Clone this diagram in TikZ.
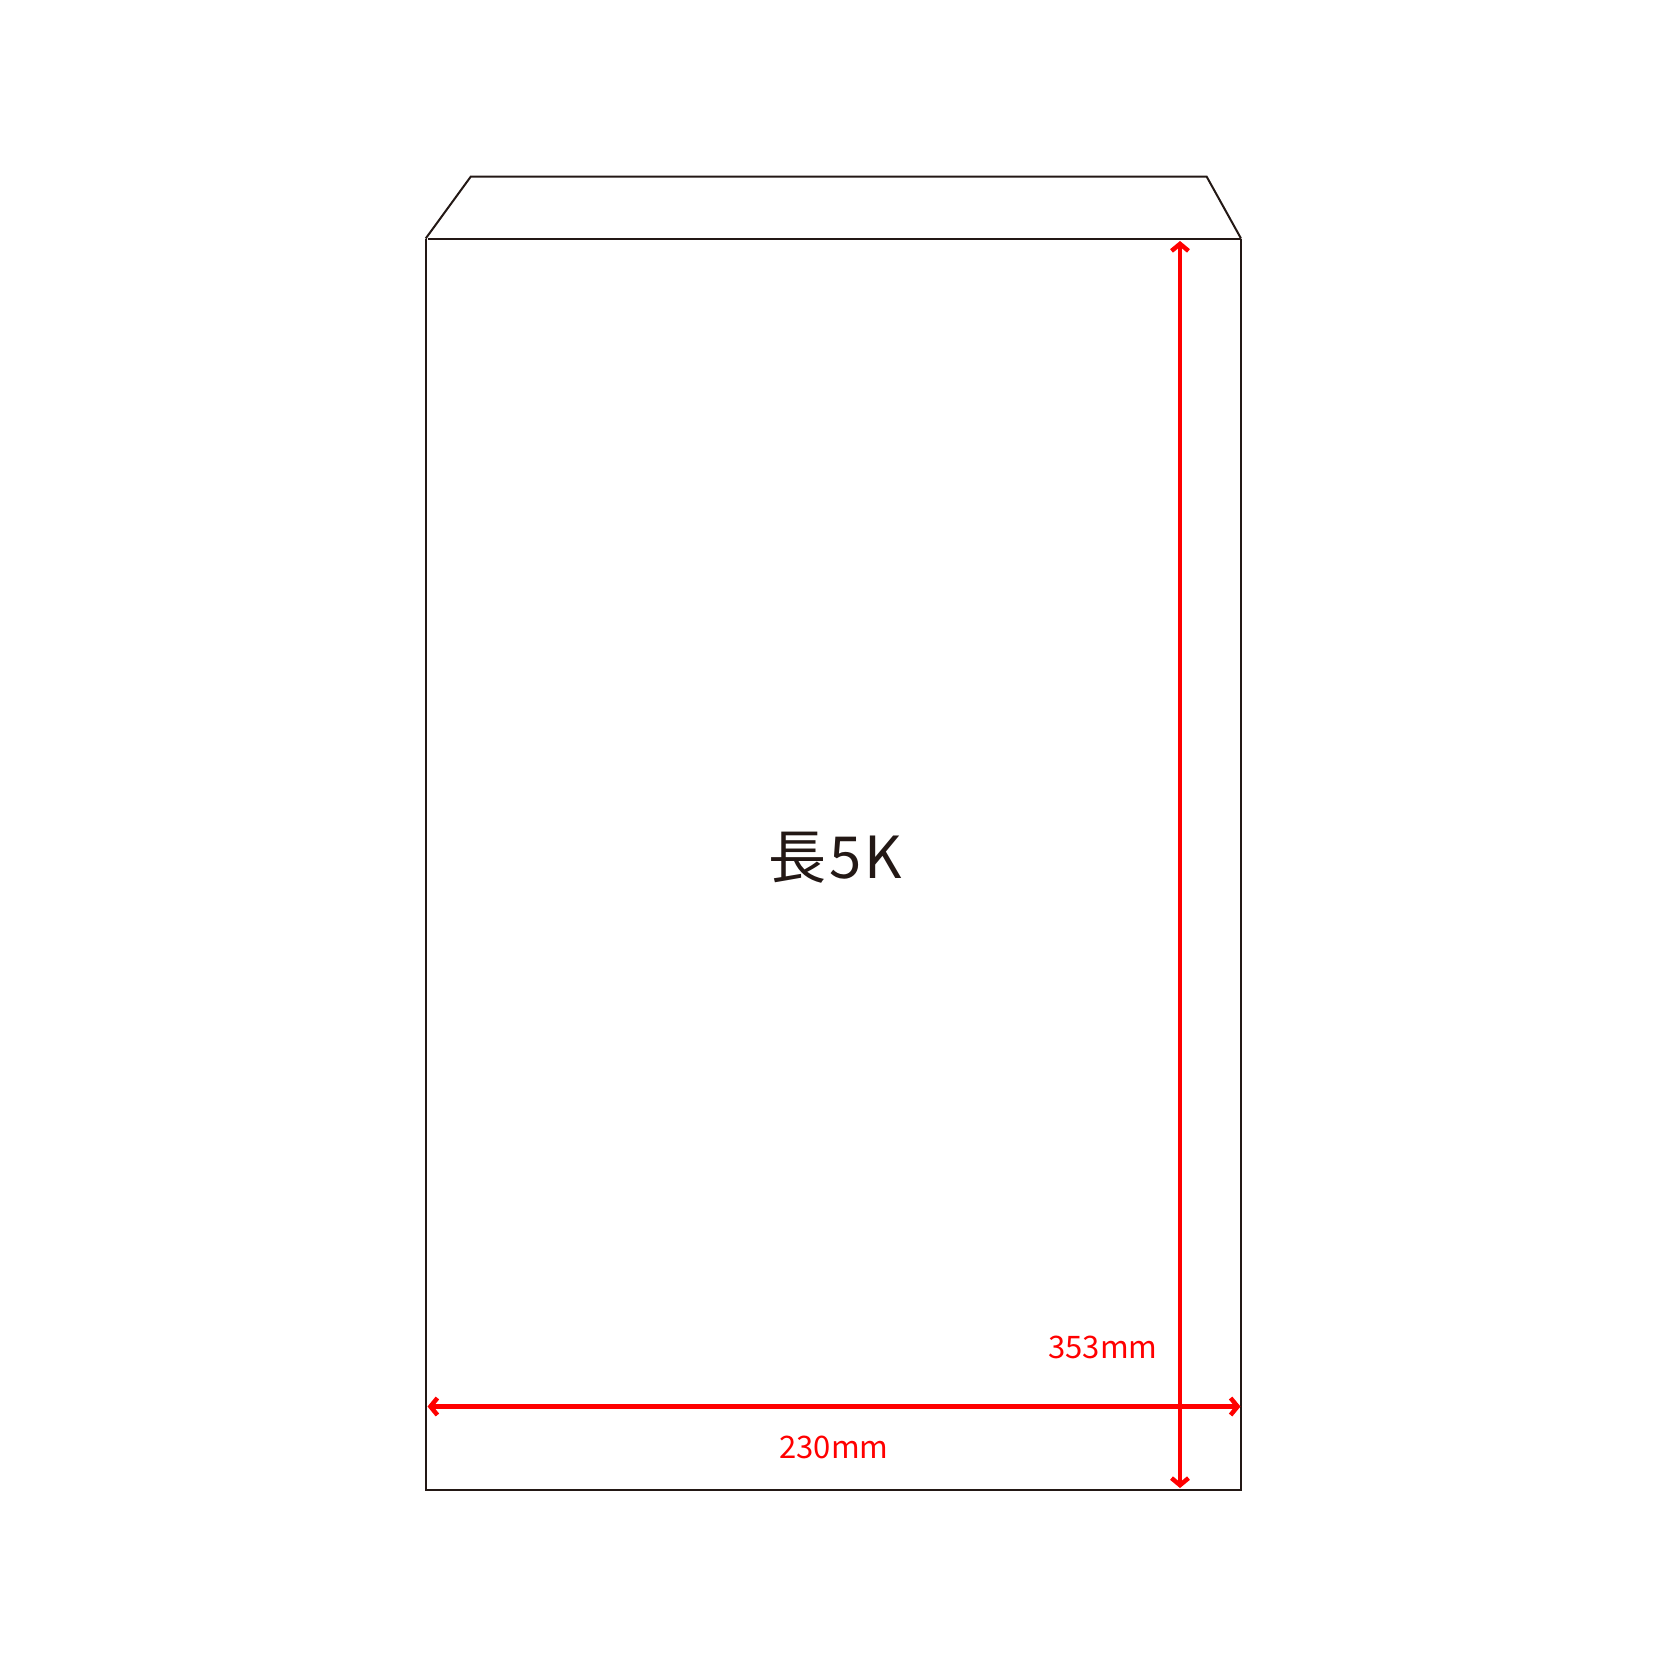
\documentclass[tikz,border=0pt]{standalone}
\usepackage{fontspec}
\newfontfamily\jpfont{Noto Sans CJK JP}
\usetikzlibrary{arrows.meta}
\definecolor{inkline}{HTML}{231815}
\definecolor{dimred}{HTML}{FF0000}
\tikzset{
  outline/.style={draw=inkline, line width=2pt, line join=miter},
  dimline/.style={draw=dimred, line width=4.8pt,
    {Straight Barb[length=7pt,width=17pt,line width=4.5pt]}-{Straight Barb[length=7pt,width=17pt,line width=4.5pt]}},
  dimlabel/.style={text=dimred, font=\jpfont\fontsize{31}{31}\selectfont, inner sep=0pt},
  titlelabel/.style={text=inkline, font=\jpfont\fontsize{58}{58}\selectfont\addfontfeature{LetterSpace=5}, inner sep=0pt}
}
\begin{document}
\begin{tikzpicture}[x=1pt,y=-1pt]
\useasboundingbox (0,0) rectangle (1668,1668);
% envelope corners
\coordinate (tl) at (425.7,238.5);
\coordinate (tr) at (1241,238.5);
\coordinate (bl) at (425.7,1490);
\coordinate (br) at (1241,1490);
\coordinate (fl) at (470.7,176.7);
\coordinate (fr) at (1206.7,176.7);
% envelope body and flap
\draw[outline] (tl) -- (bl) -- (br) -- (tr);
\draw[outline] (tl) -- (fl) -- (fr) -- (tr);
\draw[outline] (428,238.5) coordinate (tls) -- (tr);
% dimension arrows
\coordinate (vtop) at (1180,241);
\coordinate (vbot) at (1180,1488);
\coordinate (hleft) at (427.5,1406.5);
\coordinate (hright) at (1240.5,1406.5);
\draw[dimline] (hleft) -- (hright);
\draw[dimline] (vtop) -- (vbot);
% labels
\node[titlelabel] (title) at (835,858) {長5K};
\node[dimlabel] (hlabel) at (834,1447) {230mm};
\node[dimlabel] (vlabel) at (1103,1347) {353mm};
\end{tikzpicture}
\end{document}
